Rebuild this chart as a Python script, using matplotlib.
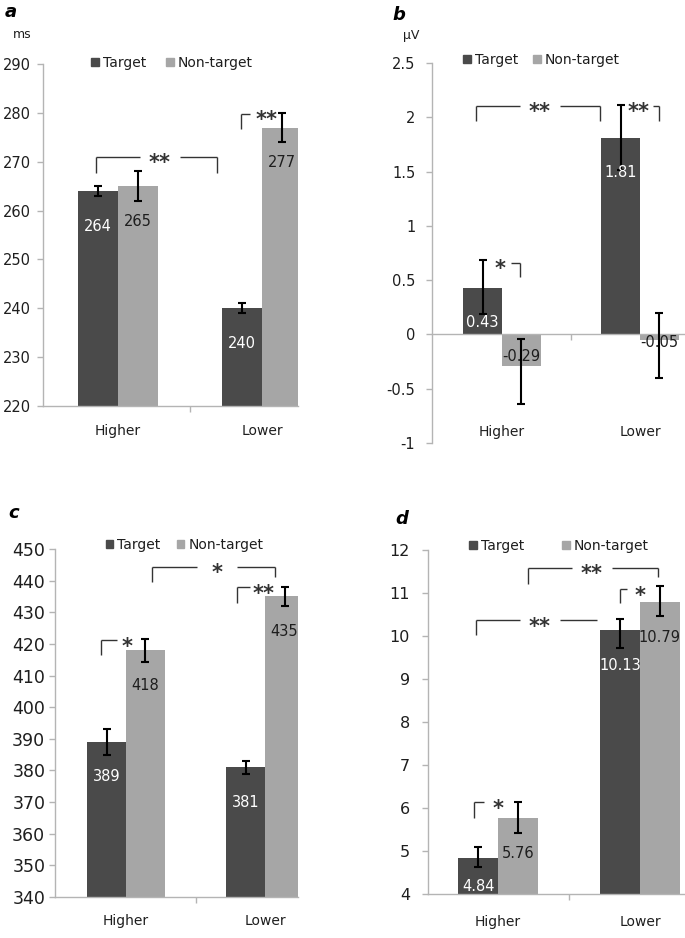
import numpy as np
import matplotlib.pyplot as plt
from matplotlib.patches import Patch

plt.rcParams['font.family'] = ['DejaVu Sans']
plt.rcParams['axes.unicode_minus'] = False

W, H = 685, 938

groups = ["Higher", "Lower"]
series = ["Target", "Non-target"]

# a: latency (ms)
a_target = [264, 240]
a_nontarget = [265, 277]
a_target_lo = [1, 1]
a_target_hi = [1, 1]
a_nontarget_lo = [3, 3]
a_nontarget_hi = [3, 3]

# b: amplitude (uV)
b_target = [0.43, 1.81]
b_nontarget = [-0.29, -0.05]
b_target_lo = [0.24, 0.30]
b_target_hi = [0.26, 0.30]
b_nontarget_lo = [0.35, 0.35]
b_nontarget_hi = [0.25, 0.25]

# c
c_target = [389, 381]
c_nontarget = [418, 435]
c_target_lo = [4, 2]
c_target_hi = [4, 2]
c_nontarget_lo = [3.7, 3]
c_nontarget_hi = [3.7, 3]

# d
d_target = [4.84, 10.13]
d_nontarget = [5.76, 10.79]
d_target_lo = [0.22, 0.40]
d_target_hi = [0.26, 0.27]
d_nontarget_lo = [0.33, 0.33]
d_nontarget_hi = [0.39, 0.37]

DARK = '#4a4a4a'
LIGHT = '#a6a6a6'
AXC = '#b4b4b4'
TXT = '#1e1e1e'
BW = 0.28

fig = plt.figure(figsize=(W / 100, H / 100), dpi=100)


def add_axes(l, r, t, b):
    return fig.add_axes([l / W, 1 - b / H, (r - l) / W, (b - t) / H])


def px2x(ax, px):
    x0, x1 = ax.get_xlim()
    return px * (x1 - x0) / (ax.get_position().width * W)


def px2y(ax, px):
    y0, y1 = ax.get_ylim()
    return px * (y1 - y0) / (ax.get_position().height * H)


def panel(ax, tgt, non, tlo, thi, nlo, nhi, xlim, ylim, yticks, tick_fs, ypad,
          leg_xy, colsp, zero_axis=False, cat_pad=13):
    x = np.arange(len(groups))
    ax.set_xlim(*xlim)
    ax.set_ylim(*ylim)
    ax.bar(x - BW / 2, tgt, BW, color=DARK, zorder=2)
    ax.bar(x + BW / 2, non, BW, color=LIGHT, zorder=2)
    ax.errorbar(x - BW / 2, tgt, yerr=[tlo, thi], fmt='none', ecolor='black',
                elinewidth=1.5, capsize=2.6, capthick=1.5, zorder=3)
    ax.errorbar(x + BW / 2, non, yerr=[nlo, nhi], fmt='none', ecolor='black',
                elinewidth=1.5, capsize=2.6, capthick=1.5, zorder=3)

    for s in ['top', 'right']:
        ax.spines[s].set_visible(False)
    for s in ['left', 'bottom']:
        ax.spines[s].set_color(AXC)
        ax.spines[s].set_linewidth(1.0)
    ax.set_yticks(yticks)
    ax.set_yticklabels(['%g' % v for v in yticks])
    ax.tick_params(axis='y', direction='out', length=4, width=1, color=AXC,
                   labelsize=tick_fs, labelcolor=TXT, pad=ypad)
    ax.set_xticks([0.5], minor=True)
    ax.tick_params(axis='x', which='minor', direction='out', length=4, width=1, color=AXC)
    if zero_axis:
        ax.spines['bottom'].set_position(('data', 0))
        ax.set_xticks([])
        for xi, g in zip(x, groups):
            ax.text(xi, 0.029, g, transform=ax.get_xaxis_transform(), ha='center',
                    va='center', fontsize=10, color=TXT)
    else:
        ax.set_xticks(x)
        ax.set_xticklabels(groups)
        ax.tick_params(axis='x', which='major', length=0, labelsize=10,
                       labelcolor=TXT, pad=cat_pad)

    # value labels inside bars
    base = max(ylim[0], 0)
    for xs, vals, col in [(x - BW / 2, tgt, 'white'), (x + BW / 2, non, TXT)]:
        for xi, v in zip(xs, vals):
            if v >= 0:
                yl = max(v - px2y(ax, 35), base + px2y(ax, 8))
            else:
                yl = min(v + px2y(ax, 9), -px2y(ax, 8))
            ax.text(xi, yl, '%g' % v, ha='center', va='center', fontsize=10.5,
                    color=col, zorder=4)

    ax.legend(handles=[Patch(color=DARK), Patch(color=LIGHT)], labels=series,
              ncol=2, loc='center', bbox_to_anchor=leg_xy, frameon=False,
              fontsize=10, handlelength=0.55, handleheight=0.55,
              handletextpad=0.3, columnspacing=colsp, borderpad=0,
              borderaxespad=0, labelcolor=TXT)


def bracket(ax, x1, x2, y, leg1, leg2, text, tx):
    kw = dict(color='#333333', lw=1.0, solid_capstyle='butt', clip_on=False, zorder=4)
    g = px2x(ax, 20)
    if x1 < tx < x2:
        ax.plot([x1, tx - g], [y, y], **kw)
        ax.plot([tx + g, x2], [y, y], **kw)
    else:
        ax.plot([x1, x2], [y, y], **kw)
    if leg1 is not None:
        ax.plot([x1, x1], [y, leg1], **kw)
    if leg2 is not None:
        ax.plot([x2, x2], [y, leg2], **kw)
    ax.annotate(text, (tx, y), xytext=(0, -9), textcoords='offset points',
                ha='center', va='baseline', fontsize=15, fontweight='bold',
                color='#333333', annotation_clip=False, zorder=4)


# ---- a
ax_a = add_axes(43, 298, 64, 406)
panel(ax_a, a_target, a_nontarget, a_target_lo, a_target_hi, a_nontarget_lo,
      a_nontarget_hi, (-0.521, 1.25), (220, 290), np.arange(220, 291, 10),
      10.5, 5, (0.506, 1.003), 1.4)
bracket(ax_a, -0.15, 0.69, 271.0, 267.7, 267.7, '**', 0.29)
bracket(ax_a, 0.854, 0.917, 279.8, 276.7, None, '**', 1.03)

# ---- b
ax_b = add_axes(432, 685, 63, 443)
panel(ax_b, b_target, b_nontarget, b_target_lo, b_target_hi, b_nontarget_lo,
      b_nontarget_hi, (-0.507, 1.326), (-1, 2.5), np.arange(-1, 2.51, 0.5),
      10.5, 8, (0.433, 1.008), 1.1, zero_axis=True)
bracket(ax_b, -0.19, 0.71, 2.107, 1.97, 1.97, '**', 0.275)
bracket(ax_b, 1.094, 1.14, 2.107, None, 1.97, '**', 0.993)
bracket(ax_b, 0.065, 0.13, 0.66, None, 0.53, '*', -0.015)

# ---- c
ax_c = add_axes(55, 298, 549, 897)
panel(ax_c, c_target, c_nontarget, c_target_lo, c_target_hi, c_nontarget_lo,
      c_nontarget_hi, (-0.511, 1.237), (340, 450), np.arange(340, 451, 10),
      12.5, 3, (0.533, 1.011), 1.15, cat_pad=12)
bracket(ax_c, 0.19, 1.07, 444.4, 439.7, 441.1, '*', 0.655)
bracket(ax_c, 0.80, 0.89, 437.9, 432.8, None, '**', 0.986)
bracket(ax_c, -0.18, -0.065, 421.2, 416.5, None, '*', 0.007)

# ---- d
ax_d = add_axes(428, 685, 550, 894)
panel(ax_d, d_target, d_nontarget, d_target_lo, d_target_hi, d_nontarget_lo,
      d_nontarget_hi, (-0.493, 1.317), (4, 12), np.arange(4, 13, 1),
      11.5, 9, (0.51, 1.012), 2.7, cat_pad=15)
bracket(ax_d, 0.21, 1.125, 11.59, 11.21, 11.37, '**', 0.66)
bracket(ax_d, -0.157, 0.70, 10.37, 10.02, None, '**', 0.296)
bracket(ax_d, 0.86, 0.908, 11.09, 10.76, None, '*', 1.0)
bracket(ax_d, -0.17, -0.099, 6.13, 5.76, None, '*', 0.0)

# panel letters and units
for lbl, px, py in [('a', 5, 12), ('b', 392, 15), ('c', 8, 513), ('d', 395, 519)]:
    fig.text(px / W, 1 - py / H, lbl, fontsize=13, fontweight='bold',
             fontstyle='italic', va='center', ha='left')
fig.text(13 / W, 1 - 34 / H, 'ms', fontsize=9, color=TXT, va='center')
fig.text(403 / W, 1 - 35 / H, 'µV', fontsize=9, color=TXT, va='center')

fig.savefig('out.png', dpi=100)
